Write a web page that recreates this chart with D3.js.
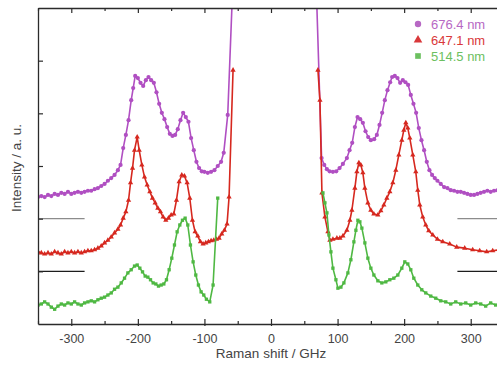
<!DOCTYPE html>
<html>
<head>
<meta charset="utf-8">
<script src="https://cdn.jsdelivr.net/npm/d3@7"></script>
<style>
  html, body { margin: 0; padding: 0; background: #fff; }
  svg { display: block; font-family: "Liberation Sans", Arial, sans-serif; }
</style>
</head>
<body>
<svg id="chart" width="497" height="368"></svg>
<script>
// Raman spectra (anti-Stokes side < 0, Stokes side > 0), intensity in arbitrary units
const laserLines = ["676.4 nm", "647.1 nm", "514.5 nm"];
const shiftTicks = [-300, -200, -100, 0, 100, 200, 300];
const shiftMinorTicks = [-350, -250, -150, -50, 50, 150, 250, 350];
const intensityTicks = [1, 2, 3, 4, 5];
const referenceLevels = [2, 1];
const referenceSpans = [[-350, -280], [280, 350]];

const violetAntiStokes = [
  [-350,2.41],[-345,2.43],[-340,2.41],[-335,2.45],[-330,2.43],[-325,2.47],[-320,2.45],[-315,2.49],
  [-310,2.47],[-305,2.51],[-300,2.47],[-295,2.49],[-290,2.51],[-285,2.49],[-280,2.51],[-275,2.53],
  [-270,2.53],[-265,2.56],[-260,2.58],[-255,2.62],[-250,2.66],[-245,2.72],[-240,2.77],[-235,2.83],
  [-230,2.92],[-226,3.02],[-222,3.34],[-218,3.59],[-214,3.87],[-210,4.25],[-207,4.48],[-204,4.71],
  [-200,4.67],[-196,4.58],[-192,4.52],[-188,4.63],[-184,4.69],[-180,4.63],[-176,4.58],[-172,4.40],
  [-168,4.18],[-164,4.01],[-160,3.89],[-156,3.74],[-152,3.61],[-148,3.57],[-144,3.59],[-140,3.70],
  [-136,3.87],[-132,4.01],[-128,3.93],[-124,3.84],[-120,3.53],[-116,3.30],[-112,3.08],[-108,2.96],
  [-104,2.90],[-100,2.89],[-95,2.87],[-90,2.89],[-85,2.92],[-80,3.00],[-75,3.08],[-71,3.25],
  [-65,3.97],[-56,6.90]
];
const violetStokes = [
  [67.5,6.60],[76,3.15],[80,3.02],[84,2.94],[88,2.90],[93,2.89],[98,2.90],[103,2.96],[108,3.04],
  [114,3.15],[118,3.30],[122,3.44],[126,3.74],[130,3.93],[134,3.89],[138,3.82],[142,3.66],
  [146,3.55],[150,3.49],[155,3.51],[159,3.59],[163,3.78],[167,4.01],[171,4.25],[175,4.44],
  [179,4.59],[182,4.69],[186,4.71],[190,4.67],[194,4.58],[198,4.63],[202,4.59],[206,4.54],
  [210,4.35],[214,4.18],[218,4.01],[222,3.72],[226,3.49],[230,3.30],[234,3.08],[238,2.92],
  [242,2.83],[246,2.77],[250,2.72],[255,2.66],[260,2.60],[265,2.58],[270,2.54],[275,2.53],
  [280,2.51],[285,2.51],[290,2.49],[295,2.47],[300,2.45],[305,2.45],[310,2.47],[315,2.49],
  [320,2.51],[325,2.53],[330,2.51],[335,2.53],[340,2.54],[345,2.54],[350,2.56]
];

const redAntiStokes = [
  [-350,1.37],[-345,1.35],[-340,1.33],[-335,1.35],[-330,1.33],[-325,1.37],[-320,1.35],[-315,1.33],
  [-310,1.37],[-305,1.35],[-300,1.37],[-295,1.35],[-290,1.37],[-285,1.35],[-280,1.37],[-275,1.39],
  [-270,1.39],[-265,1.41],[-260,1.44],[-255,1.48],[-250,1.54],[-245,1.59],[-240,1.65],[-235,1.73],
  [-230,1.80],[-226,1.88],[-222,2.01],[-218,2.13],[-214,2.35],[-211,2.68],[-208,2.96],[-205,3.30],
  [-201,3.55],[-198,3.30],[-194,3.02],[-190,2.79],[-186,2.64],[-182,2.51],[-178,2.39],[-174,2.30],
  [-170,2.20],[-166,2.13],[-162,2.03],[-158,1.97],[-154,2.01],[-150,2.07],[-146,2.09],[-142,2.35],
  [-138,2.70],[-134,2.83],[-130,2.81],[-126,2.68],[-122,2.39],[-118,1.97],[-114,1.75],[-110,1.67],
  [-106,1.56],[-102,1.52],[-98,1.54],[-94,1.56],[-90,1.58],[-86,1.59],[-82,1.61],[-78,1.63],
  [-74,1.71],[-70,1.78],[-66,1.90],[-63,2.41],[-57,4.82]
];
const redStokes = [
  [70.5,4.82],[73.5,4.25],[76.5,2.49],[81,2.03],[85.5,1.75],[88.5,1.59],[93,1.61],[99,1.63],
  [103.5,1.63],[108,1.67],[114,1.78],[118.5,1.97],[121.5,2.16],[126,2.58],[129,2.89],[132,3.06],
  [135,3.02],[138,2.87],[141,2.58],[145.5,2.30],[150,2.16],[154.5,2.09],[160.5,2.07],[165,2.15],
  [169.5,2.26],[174,2.39],[178.5,2.51],[183,2.68],[187.5,2.92],[192,3.21],[196.5,3.49],[199.5,3.68],
  [202.5,3.82],[205.5,3.72],[208.5,3.53],[213,3.21],[217.5,2.89],[220.5,2.54],[223.5,2.26],[228,2.03],
  [232.5,1.88],[237,1.77],[243,1.69],[250,1.61],[258,1.56],[268.5,1.52],[279,1.46],[291,1.44],
  [303,1.41],[313.5,1.39],[324,1.37],[333,1.39],[343.5,1.41],[350,1.39]
];

const greenAntiStokes = [
  [-350,0.36],[-345,0.38],[-340,0.42],[-335,0.38],[-330,0.32],[-325,0.28],[-320,0.34],[-315,0.38],
  [-310,0.36],[-305,0.40],[-300,0.38],[-295,0.42],[-290,0.38],[-285,0.36],[-280,0.40],[-275,0.42],
  [-270,0.44],[-265,0.42],[-260,0.46],[-255,0.49],[-250,0.51],[-245,0.55],[-240,0.59],[-235,0.66],
  [-230,0.70],[-225,0.78],[-220,0.87],[-215,0.97],[-210,1.03],[-205,1.10],[-201,1.12],[-197,1.06],
  [-193,0.99],[-189,0.91],[-185,0.89],[-181,0.84],[-177,0.78],[-173,0.76],[-169,0.72],[-165,0.74],
  [-161,0.76],[-157,0.84],[-153,1.03],[-149,1.25],[-145,1.50],[-141,1.75],[-137,1.88],[-133,1.97],
  [-129,2.01],[-125,1.88],[-121,1.50],[-117,1.18],[-113,0.93],[-109,0.74],[-105,0.61],[-101,0.55],
  [-97,0.47],[-92,0.42],[-87,0.74],[-80,2.39]
];
const greenStokes = [
  [78,2.49],[81,2.30],[84,2.11],[87,1.69],[90,1.37],[93,1.06],[97.5,0.84],[100.5,0.68],[105,0.70],
  [109.5,0.78],[115.5,0.97],[120,1.22],[124.5,1.56],[127.5,1.78],[130.5,1.97],[133.5,1.94],
  [136.5,1.82],[141,1.54],[145.5,1.25],[150,1.06],[154.5,0.93],[160.5,0.82],[166.5,0.78],
  [172.5,0.80],[178.5,0.84],[184.5,0.87],[190.5,0.93],[196.5,1.06],[201,1.18],[205.5,1.14],
  [210,1.03],[214.5,0.87],[220.5,0.74],[226.5,0.65],[232.5,0.59],[240,0.53],[247.5,0.49],
  [255,0.44],[262.5,0.42],[270,0.38],[277.5,0.42],[285,0.38],[292.5,0.40],[300,0.36],[307.5,0.40],
  [315,0.38],[322.5,0.34],[330,0.40],[337.5,0.36],[345,0.38]
];

const seriesList = [
  { label: laserLines[0], color: "#b04fc2", legendColor: "#b768c4", symbol: d3.symbolCircle, symbolSize: 14, segments: [violetAntiStokes, violetStokes] },
  { label: laserLines[1], color: "#d6281f", legendColor: "#d9383a", symbol: d3.symbolTriangle, symbolSize: 12, segments: [redAntiStokes, redStokes] },
  { label: laserLines[2], color: "#4fb843", legendColor: "#6cc060", symbol: d3.symbolSquare, symbolSize: 11, segments: [greenAntiStokes, greenStokes] }
];

const margin = { left: 38, top: 8, right: -7, bottom: 44 };
const W = 497, H = 368;
const svg = d3.select("#chart");

const xScale = d3.scaleLinear().domain([-350, 350]).range([margin.left, W - margin.right]);
const yScale = d3.scaleLinear().domain([0, 6]).range([H - margin.bottom, margin.top]);

const [x0, x1] = xScale.range();
const [yb, yt] = yScale.range();

svg.append("defs").append("clipPath").attr("id", "plot-clip")
  .append("rect").attr("x", x0).attr("y", yt).attr("width", x1 - x0).attr("height", yb - yt);

// reference levels at the spectrum edges
const refColors = ["#8c8c8c", "#1c1c1c"];
const refG = svg.append("g");
referenceLevels.forEach((lvl, i) => {
  referenceSpans.forEach(span => {
    refG.append("line")
      .attr("x1", xScale(span[0])).attr("x2", xScale(span[1]))
      .attr("y1", yScale(lvl)).attr("y2", yScale(lvl))
      .attr("stroke", refColors[i]).attr("stroke-width", 1.4);
  });
});

// spectra
const plotArea = svg.append("g").attr("clip-path", "url(#plot-clip)");
const lineGen = d3.line().x(d => xScale(d[0])).y(d => yScale(d[1]));

seriesList.forEach(s => {
  const g = plotArea.append("g");
  s.segments.forEach(seg => {
    g.append("path").datum(seg)
      .attr("d", lineGen)
      .attr("fill", "none")
      .attr("stroke", s.color)
      .attr("stroke-width", 1.6)
      .attr("stroke-linejoin", "round");
    g.selectAll(null).data(seg).enter().append("path")
      .attr("d", d3.symbol().type(s.symbol).size(s.symbolSize))
      .attr("transform", d => `translate(${xScale(d[0])},${yScale(d[1])})`)
      .attr("fill", s.color);
  });
});

// axes / frame
const axisColor = "#2b2b2b";
function styleAxis(g) {
  g.selectAll(".domain").attr("stroke", axisColor).attr("stroke-width", 1.3);
  g.selectAll(".tick line").attr("stroke", axisColor).attr("stroke-width", 1.2);
  g.selectAll(".tick text").attr("fill", "#444").style("font-size", "12.5px")
    .style("font-family", "'Liberation Sans', Arial, sans-serif");
}

const axisBottomG = svg.append("g").attr("transform", `translate(0,${yb})`)
  .call(d3.axisBottom(xScale).tickValues(shiftTicks).tickSizeInner(-5).tickSizeOuter(0).tickPadding(10)
    .tickFormat(d => d < 0 ? "-" + Math.abs(d) : d));
styleAxis(axisBottomG);
const axisBottomOut = svg.append("g").attr("transform", `translate(0,${yb})`)
  .call(d3.axisBottom(xScale).tickValues(shiftTicks).tickSize(2).tickFormat(""));
styleAxis(axisBottomOut);
axisBottomOut.select(".domain").remove();
const axisBottomMinor = svg.append("g").attr("transform", `translate(0,${yb})`)
  .call(d3.axisBottom(xScale).tickValues(shiftMinorTicks).tickSize(-3).tickFormat(""));
styleAxis(axisBottomMinor);
axisBottomMinor.select(".domain").remove();

const axisTopG = svg.append("g").attr("transform", `translate(0,${yt})`)
  .call(d3.axisTop(xScale).tickValues(shiftTicks).tickSizeInner(-5).tickSizeOuter(0).tickFormat(""));
styleAxis(axisTopG);
const axisTopMinor = svg.append("g").attr("transform", `translate(0,${yt})`)
  .call(d3.axisTop(xScale).tickValues(shiftMinorTicks).tickSize(-3).tickFormat(""));
styleAxis(axisTopMinor);
axisTopMinor.select(".domain").remove();

const axisLeftG = svg.append("g").attr("transform", `translate(${x0},0)`)
  .call(d3.axisLeft(yScale).tickValues(intensityTicks).tickSizeInner(-5).tickSizeOuter(0).tickFormat(""));
styleAxis(axisLeftG);
const axisRightG = svg.append("g").attr("transform", `translate(${x1},0)`)
  .call(d3.axisRight(yScale).tickValues(intensityTicks).tickSizeInner(-5).tickSizeOuter(0).tickFormat(""));
styleAxis(axisRightG);

// axis titles
svg.append("text")
  .attr("x", xScale(0)).attr("y", H - 10)
  .attr("text-anchor", "middle")
  .attr("fill", "#444").style("font-size", "13.5px")
  .text("Raman shift / GHz");
svg.append("text")
  .attr("transform", `translate(21,${(yt + yb) / 2 + 2}) rotate(-90)`)
  .attr("text-anchor", "middle")
  .attr("fill", "#444").style("font-size", "13.5px")
  .text("Intensity / a. u.");

// legend
const legend = svg.append("g").attr("transform", "translate(418,24)");
seriesList.forEach((s, i) => {
  const row = legend.append("g").attr("transform", `translate(0,${i * 16})`);
  row.append("path")
    .attr("d", d3.symbol().type(s.symbol).size(32))
    .attr("fill", s.legendColor);
  row.append("text")
    .attr("x", 13).attr("y", 4.5)
    .attr("fill", s.legendColor)
    .style("font-size", "13px")
    .text(s.label);
});
</script>
</body>
</html>
